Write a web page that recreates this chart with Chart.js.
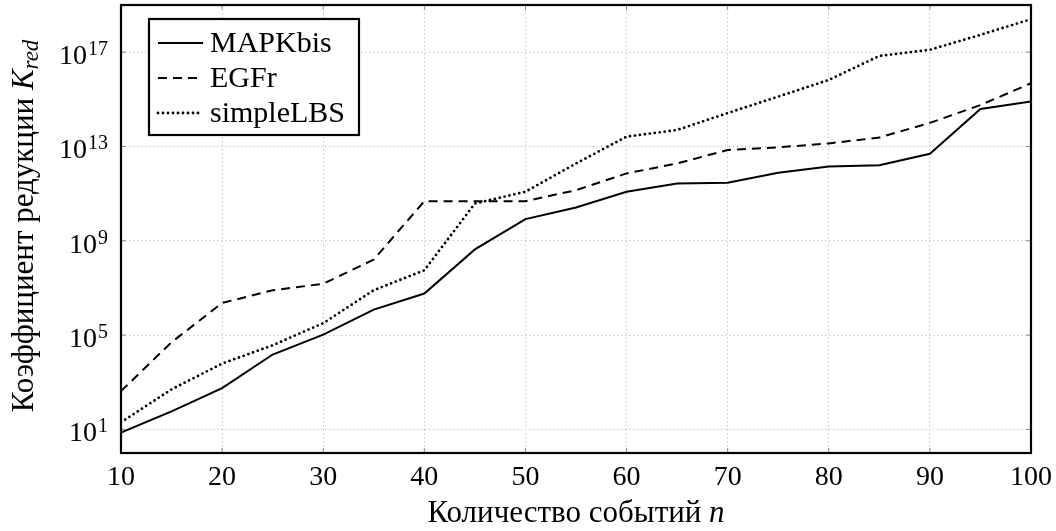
<!DOCTYPE html>
<html>
<head>
<meta charset="utf-8">
<script src="https://cdn.jsdelivr.net/npm/chart.js@4.4.1/dist/chart.umd.min.js"></script>
<style>
  html, body { margin: 0; padding: 0; background: #fff; }
  #wrap { width: 1056px; height: 531px; }
</style>
</head>
<body>
<div id="wrap"><canvas id="reductionChart"></canvas></div>
<script>
// data
const xValues = [10, 15, 20, 25, 30, 35, 40, 45, 50, 55, 60, 65, 70, 75, 80, 85, 90, 95, 100];
const mapkValues = [7.4, 58, 560, 1.5e4, 1.05e5, 1.2e6, 5.8e6, 4.3e8, 8.3e9, 2.6e10, 1.2e11, 2.7e11, 2.9e11, 7.6e11, 1.4e12, 1.6e12, 4.9e12, 3.9e14, 8e14];
const egfrValues = [420, 5e4, 2.3e6, 8e6, 1.5e7, 1.6e8, 4.8e10, 4.8e10, 4.8e10, 1.4e11, 7.2e11, 1.9e12, 7.1e12, 9.2e12, 1.35e13, 2.4e13, 1e14, 5.7e14, 4.8e15];
const lbsValues = [20, 500, 6.2e3, 3.7e4, 3.2e5, 8e6, 5.6e7, 3.8e10, 1.2e11, 1.9e12, 2.6e13, 5e13, 2.6e14, 1.3e15, 6.6e15, 6.9e16, 1.26e17, 5.4e17, 2.5e18];
const seriesNames = ['MAPKbis', 'EGFr', 'simpleLBS'];
const xTickValues = [10, 20, 30, 40, 50, 60, 70, 80, 90, 100];
const yTickValues = [1e1, 1e5, 1e9, 1e13, 1e17];
const yTickExponents = ['1', '5', '9', '13', '17'];

const FONT = 'Liberation Serif';

function toPoints(ys) {
    return xValues.map(function (x, i) { return { x: x, y: ys[i] }; });
}

// draws a line of text made of several font pieces, centred on cx
function drawParts(ctx, parts, cx, baseline) {
    let total = 0;
    parts.forEach(function (p) { ctx.font = p.font; p.w = ctx.measureText(p.text).width; total += p.w; });
    let x = cx - total / 2;
    ctx.textAlign = 'left';
    ctx.textBaseline = 'alphabetic';
    parts.forEach(function (p) {
        ctx.font = p.font;
        ctx.fillText(p.text, x, baseline + (p.dy || 0));
        x += p.w;
    });
}

const framePlugin = {
    id: 'frame',
    afterDatasetsDraw: function (chart) {
        const ctx = chart.ctx;
        const a = chart.chartArea;
        const xs = chart.scales.x, ys = chart.scales.y;
        ctx.save();
        // small inner ticks
        ctx.strokeStyle = '#888';
        ctx.lineWidth = 1;
        ctx.beginPath();
        xTickValues.forEach(function (v) {
            const px = xs.getPixelForValue(v);
            ctx.moveTo(px, a.bottom); ctx.lineTo(px, a.bottom - 5);
            ctx.moveTo(px, a.top); ctx.lineTo(px, a.top + 5);
        });
        yTickValues.forEach(function (v) {
            const py = ys.getPixelForValue(v);
            ctx.moveTo(a.left, py); ctx.lineTo(a.left + 5, py);
            ctx.moveTo(a.right, py); ctx.lineTo(a.right - 5, py);
        });
        ctx.stroke();
        ctx.strokeStyle = '#000';
        ctx.lineWidth = 2.2;
        ctx.strokeRect(a.left, a.top, a.right - a.left, a.bottom - a.top);

        // y tick labels 10^k
        ctx.fillStyle = '#000';
        ctx.textBaseline = 'alphabetic';
        yTickValues.forEach(function (v, i) {
            const py = ys.getPixelForValue(v);
            const right = a.left - 13;
            ctx.font = '20px "' + FONT + '"';
            const ew = ctx.measureText(yTickExponents[i]).width;
            ctx.textAlign = 'right';
            ctx.fillText(yTickExponents[i], right, py + 3);
            ctx.font = '28px "' + FONT + '"';
            ctx.fillText('10', right - ew - 1, py + 12);
        });

        // legend box
        const lx = 149, ly = 19, lw = 210, lh = 116;
        ctx.fillStyle = '#fff';
        ctx.fillRect(lx, ly, lw, lh);
        ctx.strokeRect(lx, ly, lw, lh);
        chart.data.datasets.forEach(function (ds, i) {
            const cy = ly + 24 + i * 35;
            ctx.save();
            ctx.strokeStyle = '#000';
            ctx.lineWidth = ds.borderWidth;
            ctx.lineCap = ds.borderCapStyle || 'butt';
            ctx.setLineDash(ds.borderDash || []);
            ctx.beginPath();
            ctx.moveTo(lx + 9, cy); ctx.lineTo(lx + 54, cy);
            ctx.stroke();
            ctx.restore();
            ctx.fillStyle = '#000';
            ctx.font = '30px "' + FONT + '"';
            ctx.textAlign = 'left';
            ctx.textBaseline = 'middle';
            ctx.fillText(ds.label, lx + 61, cy + 1);
        });
        ctx.restore();
    },
    afterDraw: function (chart) {
        const ctx = chart.ctx;
        const a = chart.chartArea;
        ctx.save();
        ctx.fillStyle = '#000';
        drawParts(ctx, [
            { text: 'Количество событий ', font: '31px "' + FONT + '"' },
            { text: 'n', font: 'italic 31px "' + FONT + '"' }
        ], (a.left + a.right) / 2, 522);

        ctx.translate(33, (a.top + a.bottom) / 2 - 3);
        ctx.rotate(-Math.PI / 2);
        drawParts(ctx, [
            { text: 'Коэффициент редукции ', font: '31px "' + FONT + '"' },
            { text: 'K', font: 'italic 31px "' + FONT + '"' },
            { text: 'red', font: 'italic 23px "' + FONT + '"', dy: 5 }
        ], 0, 0);
        ctx.restore();
    }
};

const ctx = document.getElementById('reductionChart').getContext('2d');
new Chart(ctx, {
    type: 'line',
    data: {
        datasets: [{
            label: seriesNames[0],
            data: toPoints(mapkValues),
            borderColor: '#000',
            borderWidth: 2,
            borderDash: [],
            pointRadius: 0,
            tension: 0
        }, {
            label: seriesNames[1],
            data: toPoints(egfrValues),
            borderColor: '#000',
            borderWidth: 2,
            borderDash: [9, 6],
            pointRadius: 0,
            tension: 0
        }, {
            label: seriesNames[2],
            data: toPoints(lbsValues),
            borderColor: '#000',
            borderWidth: 2.8,
            borderDash: [0, 5],
            borderCapStyle: 'round',
            pointRadius: 0,
            tension: 0
        }]
    },
    options: {
        responsive: true,
        maintainAspectRatio: false,
        animation: false,
        layout: { padding: { top: 5, right: 25, left: 0, bottom: 0 } },
        plugins: {
            legend: { display: false },
            tooltip: { enabled: false }
        },
        scales: {
            x: {
                type: 'linear',
                min: 10,
                max: 100,
                afterBuildTicks: function (scale) {
                    scale.ticks = xTickValues.map(function (v) { return { value: v }; });
                },
                afterFit: function (scale) {
                    scale.height = 78;
                    scale.paddingLeft = 0;
                    scale.paddingRight = 0;
                },
                ticks: {
                    color: '#000',
                    padding: 8,
                    maxRotation: 0,
                    font: { family: FONT, size: 28 }
                },
                grid: { color: '#bdbdbd', lineWidth: 1, drawTicks: false },
                border: { display: false, dash: [1.2, 2.8] }
            },
            y: {
                type: 'logarithmic',
                min: 1,
                max: 1e19,
                afterBuildTicks: function (scale) {
                    scale.ticks = yTickValues.map(function (v) { return { value: v }; });
                },
                afterFit: function (scale) {
                    scale.width = 121;
                    scale.paddingTop = 0;
                    scale.paddingBottom = 0;
                },
                ticks: { display: false },
                grid: { color: '#bdbdbd', lineWidth: 1, drawTicks: false },
                border: { display: false, dash: [1.2, 2.8] }
            }
        }
    },
    plugins: [framePlugin]
});
</script>
</body>
</html>
